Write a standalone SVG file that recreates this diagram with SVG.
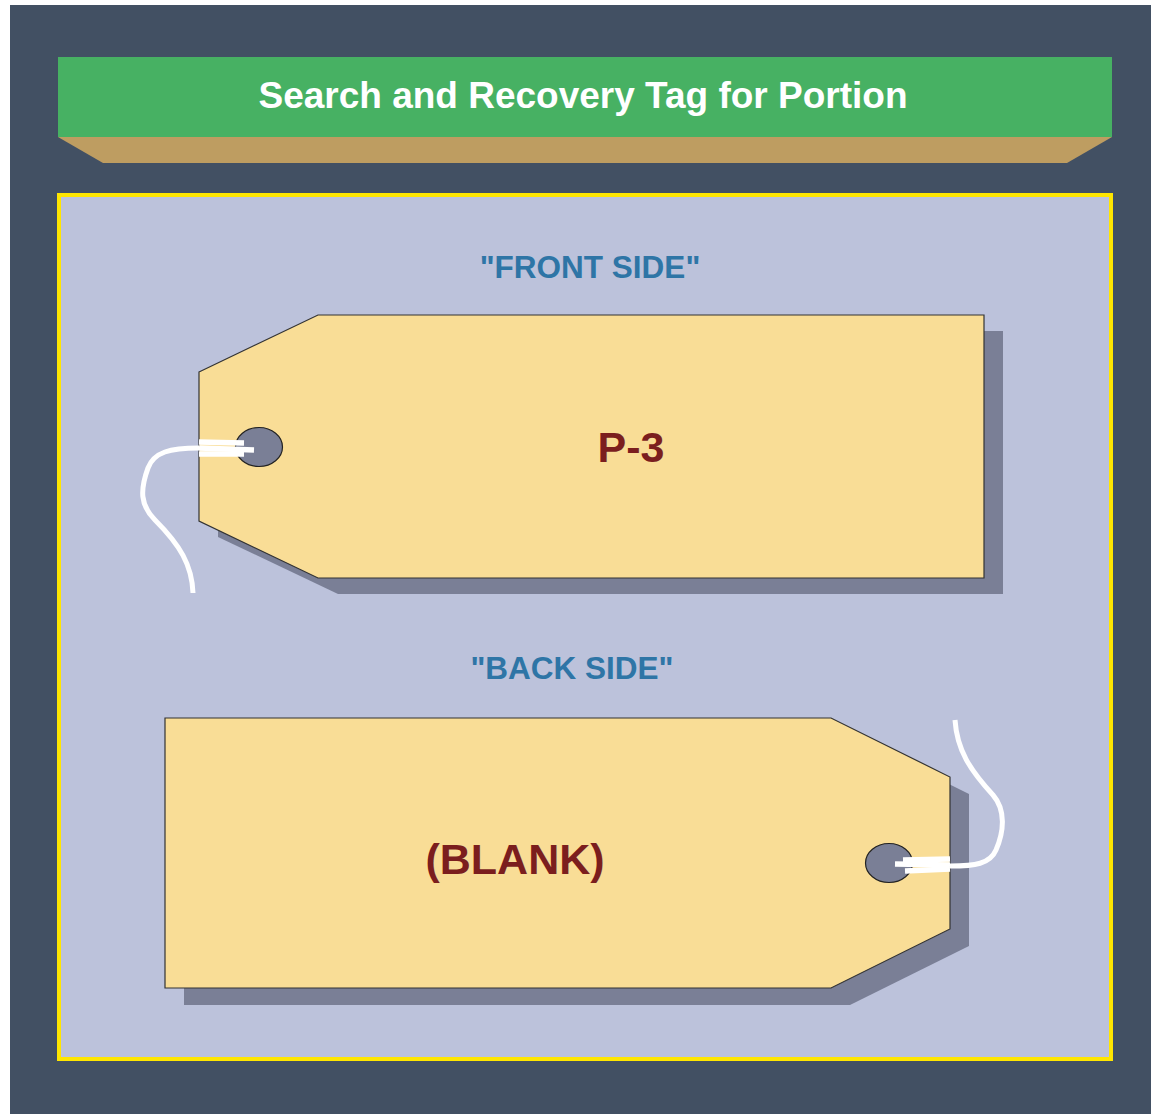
<svg xmlns="http://www.w3.org/2000/svg" width="1151" height="1114" viewBox="0 0 1151 1114">
<style>
.title{font-family:"Liberation Sans",Arial,sans-serif;font-weight:bold;font-size:37px;fill:#ffffff;text-anchor:middle}
.side{font-family:"Liberation Sans",Arial,sans-serif;font-weight:bold;font-size:31.5px;fill:#2e75a6;text-anchor:middle}
.big{font-family:"Liberation Sans",Arial,sans-serif;font-weight:bold;font-size:43px;fill:#7b1e1e;text-anchor:middle}
.tag{fill:#f9dd96;stroke:#333333;stroke-width:1.2}
.shadow{fill:#7a7f96}
.hole{fill:#7a7f96;stroke:#222222;stroke-width:1.2}
.string{fill:none;stroke:#ffffff;stroke-width:5;stroke-linecap:butt}
.strip{fill:none;stroke:#ffffff;stroke-width:5.5}
</style>
<rect x="0" y="0" width="1151" height="1114" fill="#ffffff"/>
<rect x="10" y="5" width="1141" height="1109" fill="#425063"/>
<g id="banner">
<polygon points="58,137 1112,137 1067,163 103,163" fill="#be9d61"/>
<rect x="58" y="57" width="1054" height="80" fill="#47b163"/>
<text class="title" x="583" y="108">Search and Recovery Tag for Portion</text>
</g>
<g id="panel">
<rect x="59" y="195" width="1052" height="864" fill="#bcc2db" stroke="#ffe600" stroke-width="4"/>
</g>
<g id="front-label"><text class="side" x="590" y="278">"FRONT SIDE"</text></g>
<g id="front-tag">
<polygon class="shadow" points="218,388 338,331 1003,331 1003,594 338,594 218,537"/>
<polygon class="tag" points="199,372 318,315 984,315 984,578 318,578 199,521"/>
<ellipse class="hole" cx="259" cy="447" rx="23.5" ry="19.5"/>
<path class="string" d="M199,448 C170,448 154,452 148,468 C140,490 140,505 155,520 C180,545 192,565 193,593"/>
<line class="strip" x1="199" y1="442" x2="244" y2="443"/>
<line class="strip" x1="199" y1="448" x2="254" y2="450"/>
<line class="strip" x1="199" y1="454" x2="244" y2="454"/>
<text class="big" x="631" y="462">P-3</text>
</g>
<g id="back-label"><text class="side" x="572" y="679">"BACK SIDE"</text></g>
<g id="back-tag">
<polygon class="shadow" points="184,735 850,735 969,794 969,946 850,1005 184,1005"/>
<polygon class="tag" points="165,718 831,718 950,777 950,929 831,988 165,988"/>
<ellipse class="hole" cx="889" cy="863" rx="23.5" ry="19.5"/>
<path class="string" d="M950,866 C975,866 990,864 996,850 C1004,832 1006,810 993,795 C970,770 957,750 955,720"/>
<line class="strip" x1="903" y1="860" x2="950" y2="859"/>
<line class="strip" x1="895" y1="864" x2="950" y2="865"/>
<line class="strip" x1="905" y1="871" x2="950" y2="869"/>
<text class="big" x="515" y="874">(BLANK)</text>
</g>
</svg>
